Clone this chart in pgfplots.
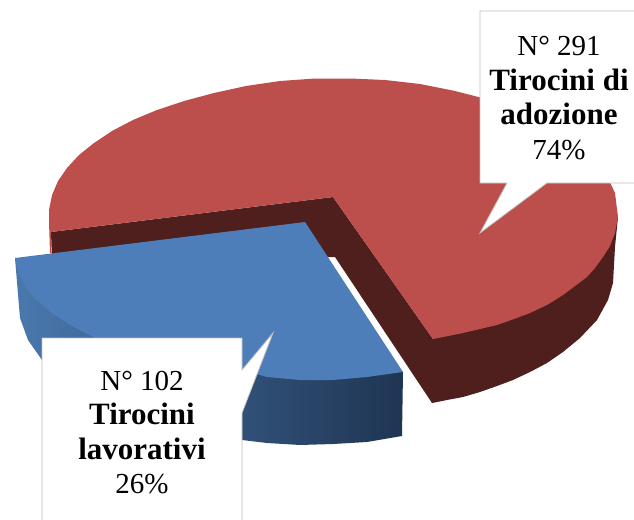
\documentclass[border=0pt]{standalone}
\usepackage{pgfplots}
\pgfplotsset{compat=1.18}
\usepackage{fontspec}
\setmainfont{Liberation Serif}
\definecolor{redtop}{HTML}{BC4F4C}
\definecolor{reddark}{HTML}{4F1F1E}
\definecolor{bluetop}{HTML}{4D7EBA}
\definecolor{blueleft}{HTML}{4A78AE}
\definecolor{blueright}{HTML}{1F3552}
\definecolor{boxline}{HTML}{BFBFBF}
\newcommand{\boldlab}[1]{{\fontsize{31}{34.5}\selectfont\bfseries #1}}
\begin{document}
\begin{tikzpicture}
  \useasboundingbox (0,0) rectangle (634pt,519pt);
  \begin{axis}[
      at={(0,0)}, anchor=south west,
      scale only axis,
      width=634pt, height=519pt,
      xmin=0, xmax=634, ymin=0, ymax=519,
      y dir=reverse,
      hide axis,
      clip=true
    ]
    % outer wall, red slice
    \addplot[fill=reddark, draw=none] coordinates {
        (618,217) (616.5,232) (615,247) (614,265) (613,283) (608,300) (597,320) (580,338)
        (563,352) (547,363) (530,372) (513,380) (497,386) (480,392) (463,397)
        (447,400) (432,403) (425,385) (425,340) (433,339)
      };
    % cut walls, red slice
    \addplot[fill=reddark, draw=none] coordinates {
        (333,197) (51,232) (52,262) (325,257) (335,257) (432,403) (433,339)
      };
    % top, red slice
    \addplot[fill=redtop, draw=none] coordinates {
        (333,197) (51,232) (51,253) (50,253) (49,222) (49,210) (52,195) (58,181) (67,168)
        (79,155) (94,143) (112,131) (133,120) (157,110) (184,101) (214,93)
        (246,86) (280,81) (315,78.5) (350,78.5) (385,80) (420,84) (455,91)
        (490,100) (520,111) (548,124) (572,139) (592,156) (606,174) (615,193)
        (618,217) (615,233) (610,246) (603,257) (595,268) (587,277) (575,286) (563,295)
        (547,305) (530,313) (514,319) (497,325) (480,329) (463,333) (448,336) (433,339)
      };
    % outer wall, blue slice
    \addplot[left color=blueleft, right color=blueright, draw=none] coordinates {
        (15,258) (20,318) (28,340) (42,360) (70,390) (110,412) (150,426) (200,435)
        (242,440) (267,443) (300,445) (333,444) (367,442) (402,436) (403,372)
      };
    % top, blue slice
    \addplot[fill=bluetop, draw=none] coordinates {
        (305,222) (15,258) (17,267) (20,275) (26,287) (33,297) (49,311) (67,323)
        (83,332) (100,340) (125,349) (150,356) (175,361) (200,366) (243,370)
        (267,377) (300,380) (333,380) (367,377) (403,372)
      };
    % callouts
    \addplot[fill=white, draw=boxline, line width=0.8pt] coordinates {
        (640,11) (480,11) (480,183) (507,183) (480,233) (547,183) (640,183)
      };
    \addplot[fill=white, draw=boxline, line width=0.8pt] coordinates {
        (42,525) (42,338) (242,338) (242,370) (273,333) (242,413) (242,525)
      };
    \node[align=center, font=\fontsize{29}{34.5}\selectfont] at (axis cs:559,98)
      {N° 291\\\boldlab{Tirocini di}\\\boldlab{adozione}\\74\%};
    \node[align=center, font=\fontsize{29}{34.5}\selectfont] at (axis cs:142,432.5)
      {N° 102\\\boldlab{Tirocini}\\\boldlab{lavorativi}\\26\%};
  \end{axis}
\end{tikzpicture}
\end{document}
